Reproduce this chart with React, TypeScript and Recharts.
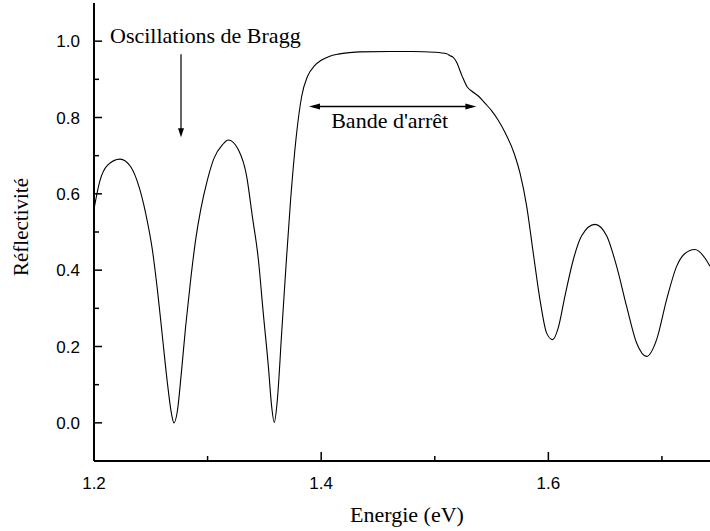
import { LineChart, Line, XAxis, YAxis, ReferenceLine } from "recharts";

const energie = [
  1.2, 1.205, 1.212, 1.2229, 1.2323, 1.2396, 1.2455, 1.2514, 1.2558,
  1.2602, 1.2646, 1.2681, 1.2704, 1.2734, 1.2769, 1.2807, 1.2851, 1.2895, 1.2939,
  1.2998, 1.3056, 1.313, 1.3182, 1.327, 1.3344, 1.3394, 1.3447, 1.349, 1.3535,
  1.3564, 1.3587, 1.3614, 1.3652, 1.369, 1.3731, 1.3778, 1.3828, 1.388, 1.394,
  1.4, 1.407, 1.415, 1.425, 1.434, 1.46, 1.48, 1.5, 1.5105, 1.5135,
  1.516, 1.519, 1.524, 1.5286, 1.533, 1.538, 1.545, 1.55, 1.556, 1.562,
  1.57, 1.575, 1.5809, 1.5867, 1.5926, 1.5985, 1.6038, 1.6087, 1.6146, 1.622,
  1.6293, 1.641, 1.6513, 1.6601, 1.6689, 1.6777, 1.6865, 1.6953, 1.7041, 1.7129,
  1.72, 1.729, 1.7378, 1.7423,
];

const reflectivite = [
  0.56, 0.632, 0.675, 0.691, 0.671, 0.619, 0.549, 0.453, 0.349,
  0.227, 0.105, 0.026, 0.0, 0.031, 0.131, 0.253, 0.375, 0.48, 0.558,
  0.636, 0.693, 0.728, 0.741, 0.716, 0.646, 0.541, 0.428, 0.288, 0.148,
  0.043, 0.001, 0.06, 0.235, 0.41, 0.585, 0.743, 0.855, 0.908, 0.935,
  0.95, 0.96, 0.966, 0.97, 0.972, 0.973, 0.973, 0.971, 0.967, 0.962,
  0.958, 0.946, 0.909, 0.88, 0.868, 0.857, 0.835, 0.818, 0.792, 0.76,
  0.705, 0.655, 0.568, 0.445, 0.323, 0.235, 0.218, 0.249, 0.332, 0.428,
  0.49, 0.52, 0.49, 0.41, 0.305, 0.209, 0.174, 0.218, 0.323, 0.41,
  0.443, 0.454, 0.432, 0.41,
];

const xTicks = [1.2, 1.3, 1.4, 1.5, 1.6, 1.7];
const xLabelled = [1.2, 1.4, 1.6];
const yTicks = [0, 0.1, 0.2, 0.3, 0.4, 0.5, 0.6, 0.7, 0.8, 0.9, 1.0];
const yLabelled = [0, 0.2, 0.4, 0.6, 0.8, 1.0];

const data = energie.map((e, i) => ({ e, r: reflectivite[i] }));

const SERIF = "'Liberation Serif', 'Times New Roman', serif";
const SANS = "'Liberation Sans', Arial, sans-serif";
const serifStyle = { fontFamily: SERIF };

const isIn = (list: number[], v: number) =>
  list.some((t) => Math.abs(t - v) < 1e-6);

const BottomTick = ({ x, y, payload }: any) => {
  const major = isIn(xLabelled, payload.value);
  return (
    <g>
      <line x1={x} x2={x} y1={y} y2={y - (major ? 9 : 5)} stroke="#000" strokeWidth={1.5} />
      {major && (
        <text x={x} y={y + 28} textAnchor="middle" fontFamily={SANS} fontSize={17} fill="#000">
          {payload.value.toFixed(1)}
        </text>
      )}
    </g>
  );
};

const TopTick = ({ x, y, payload }: any) => {
  const major = isIn(xLabelled, payload.value);
  return <line x1={x} x2={x} y1={y} y2={y + (major ? 6 : 4)} stroke="#000" strokeWidth={1.2} />;
};

const LeftTick = ({ x, y, payload }: any) => {
  const major = isIn(yLabelled, payload.value);
  return (
    <g>
      <line x1={x} x2={x + (major ? 8 : 5)} y1={y} y2={y} stroke="#000" strokeWidth={1.5} />
      {major && (
        <text x={x - 14} y={y + 6} textAnchor="end" fontFamily={SANS} fontSize={17} fill="#000">
          {payload.value.toFixed(1)}
        </text>
      )}
    </g>
  );
};

const BraggArrow = ({ x1, y1, x2, y2 }: any) => (
  <g>
    <text x={x1 - 71} y={y1 - 11} fontFamily={SERIF} style={serifStyle} fontSize={22} fill="#000">
      Oscillations de Bragg
    </text>
    <line x1={x1} x2={x2} y1={y1} y2={y2 - 8} stroke="#000" strokeWidth={1.2} />
    <polygon points={`${x2 - 3},${y2 - 9} ${x2 + 3},${y2 - 9} ${x2},${y2}`} fill="#000" />
  </g>
);

const BandArrow = ({ x1, y1, x2, y2 }: any) => (
  <g>
    <line x1={x1 + 8} x2={x2 - 8} y1={y1} y2={y2} stroke="#000" strokeWidth={1.5} />
    <polygon points={`${x1},${y1} ${x1 + 11},${y1 - 3} ${x1 + 11},${y1 + 3}`} fill="#000" />
    <polygon points={`${x2},${y2} ${x2 - 11},${y2 - 3} ${x2 - 11},${y2 + 3}`} fill="#000" />
    <text
      x={(x1 + x2) / 2 - 3}
      y={y1 + 22}
      textAnchor="middle"
      fontFamily={SERIF}
      style={serifStyle}
      fontSize={22}
      fill="#000"
    >
      Bande d'arrêt
    </text>
  </g>
);

export default function App() {
  return (
    <div style={{ position: "absolute", left: 0, top: 0, background: "#fff" }}>
      <LineChart width={710} height={531} data={data} margin={{ top: 3, right: 0, left: 0, bottom: 0 }}>
        <XAxis
          dataKey="e"
          type="number"
          domain={[1.2, 1.7423]}
          allowDataOverflow
          ticks={xTicks}
          interval={0}
          tickSize={0}
          tickMargin={0}
          tick={<BottomTick />}
          height={70}
          axisLine={{ stroke: "#000", strokeWidth: 2 }}
          label={{
            value: "Energie (eV)",
            position: "insideBottom",
            offset: 9,
            dx: 5,
            style: { fontFamily: SERIF, fontSize: 22, fill: "#000" },
          }}
        />
        <XAxis
          xAxisId="top"
          orientation="top"
          dataKey="e"
          type="number"
          domain={[1.2, 1.7423]}
          allowDataOverflow
          ticks={xTicks}
          interval={0}
          tickSize={0}
          tickMargin={0}
          tick={<TopTick />}
          height={0}
          axisLine={{ stroke: "#000", strokeWidth: 2 }}
        />
        <YAxis
          type="number"
          domain={[-0.1, 1.1]}
          allowDataOverflow
          ticks={yTicks}
          interval={0}
          tickSize={0}
          tickMargin={0}
          tick={<LeftTick />}
          width={94}
          axisLine={{ stroke: "#000", strokeWidth: 2 }}
          label={{
            content: () => {
              const cx = 21;
              const cy = 227;
              return (
                <text
                  x={cx}
                  y={cy}
                  transform={`rotate(-90, ${cx}, ${cy})`}
                  textAnchor="middle"
                  dominantBaseline="central"
                  fontFamily={SERIF}
                  style={serifStyle}
                  fontSize={21}
                  fill="#000"
                >
                  Réflectivité
                </text>
              );
            },
          }}
        />
        <Line
          type="monotone"
          dataKey="r"
          stroke="#000"
          strokeWidth={1.1}
          dot={false}
          activeDot={false}
          isAnimationActive={false}
        />
        <ReferenceLine
          segment={[
            { x: 1.2766, y: 0.966 },
            { x: 1.2766, y: 0.748 },
          ]}
          ifOverflow="visible"
          shape={<BraggArrow />}
        />
        <ReferenceLine
          segment={[
            { x: 1.3893, y: 0.829 },
            { x: 1.5366, y: 0.829 },
          ]}
          ifOverflow="visible"
          shape={<BandArrow />}
        />
      </LineChart>
    </div>
  );
}
